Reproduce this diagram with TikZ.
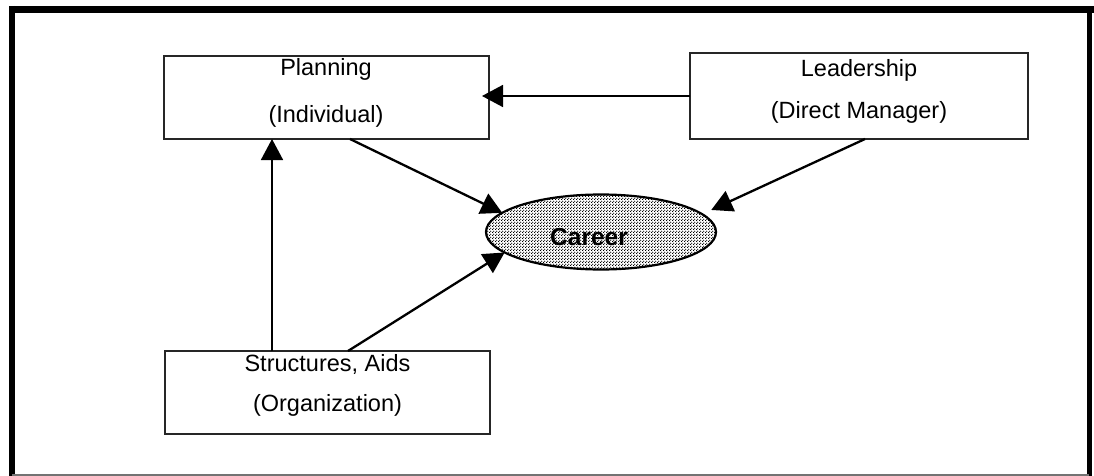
\documentclass[tikz,border=0pt]{standalone}
\usepackage{fontspec}
\setmainfont{Liberation Sans}
\usetikzlibrary{arrows.meta,shapes.geometric,patterns}

% fine halftone dot screen for the central ellipse
\pgfdeclarepatternformonly{halftone}{\pgfqpoint{0pt}{0pt}}{\pgfqpoint{3pt}{3pt}}{\pgfqpoint{3pt}{3pt}}{%
  \pgfpathcircle{\pgfqpoint{0.75pt}{0.75pt}}{0.86pt}%
  \pgfpathcircle{\pgfqpoint{2.25pt}{2.25pt}}{0.86pt}%
  \pgfusepath{fill}}

\tikzset{
  box/.style={draw=black!85, line width=1.3pt, rectangle, inner sep=0pt, outer sep=0pt},
  txt/.style={anchor=base, inner sep=0pt, font=\fontsize{23.5}{28}\selectfont},
  goal/.style={ellipse, draw=black, line width=2.2pt, inner sep=0pt, outer sep=0pt,
    pattern=halftone, pattern color=black},
  arr/.style={line width=1.7pt, -{Triangle[length=21pt,width=22pt]}},
  darr/.style={line width=2.3pt, -{Triangle[length=21pt,width=22pt]}},
}

\begin{document}
\begin{tikzpicture}[x=1pt, y=-1pt]
\useasboundingbox (0,0) rectangle (1094,476);

% outer frame
\draw[line width=6.5pt] (12,6) -- (12,476);
\draw[line width=6.5pt] (9,9.5) -- (1094,9.5);
\draw[line width=5pt] (1089.5,7) -- (1089.5,476);
\draw[line width=2pt, black!55] (12,474.5) -- (1089,474.5);

% boxes
\node[box, minimum width=325pt, minimum height=83pt] (plan) at (326.5,97.5) {};
\node[txt] (planA) at (326,76) {Planning};
\node[txt] (planB) at (326,122.7) {(Individual)};

\node[box, minimum width=338pt, minimum height=86pt] (lead) at (859,96) {};
\node[txt] (leadA) at (859,76.7) {Leadership};
\node[txt] (leadB) at (859,118) {(Direct Manager)};

\node[box, minimum width=325pt, minimum height=83pt] (struct) at (327.5,392.5) {};
\node[txt] (structA) at (327.5,371.7) {Structures, Aids};
\node[txt] (structB) at (327.5,411.7) {(Organization)};

% central goal
\node[goal, minimum width=230pt, minimum height=75pt] (career) at (601,232) {};
\node[anchor=base, inner sep=0pt, font=\fontsize{24.5}{28}\selectfont\bfseries] (careerT) at (589,245) {Career};

% connectors
\draw[arr] (lead.west) -- ([xshift=-7pt]lead.west -| plan.east);
\draw[arr] ([xshift=-55.5pt]struct.north) -- ([xshift=-55.5pt]struct.north |- plan.south);
\draw[darr] ([xshift=23.5pt]plan.south) -- (career.169);
\draw[darr] ([xshift=20.5pt]struct.north) -- (career.192);
\draw[darr, shorten >=10pt] ([xshift=6pt]lead.south) -- (career.10);
\end{tikzpicture}
\end{document}
